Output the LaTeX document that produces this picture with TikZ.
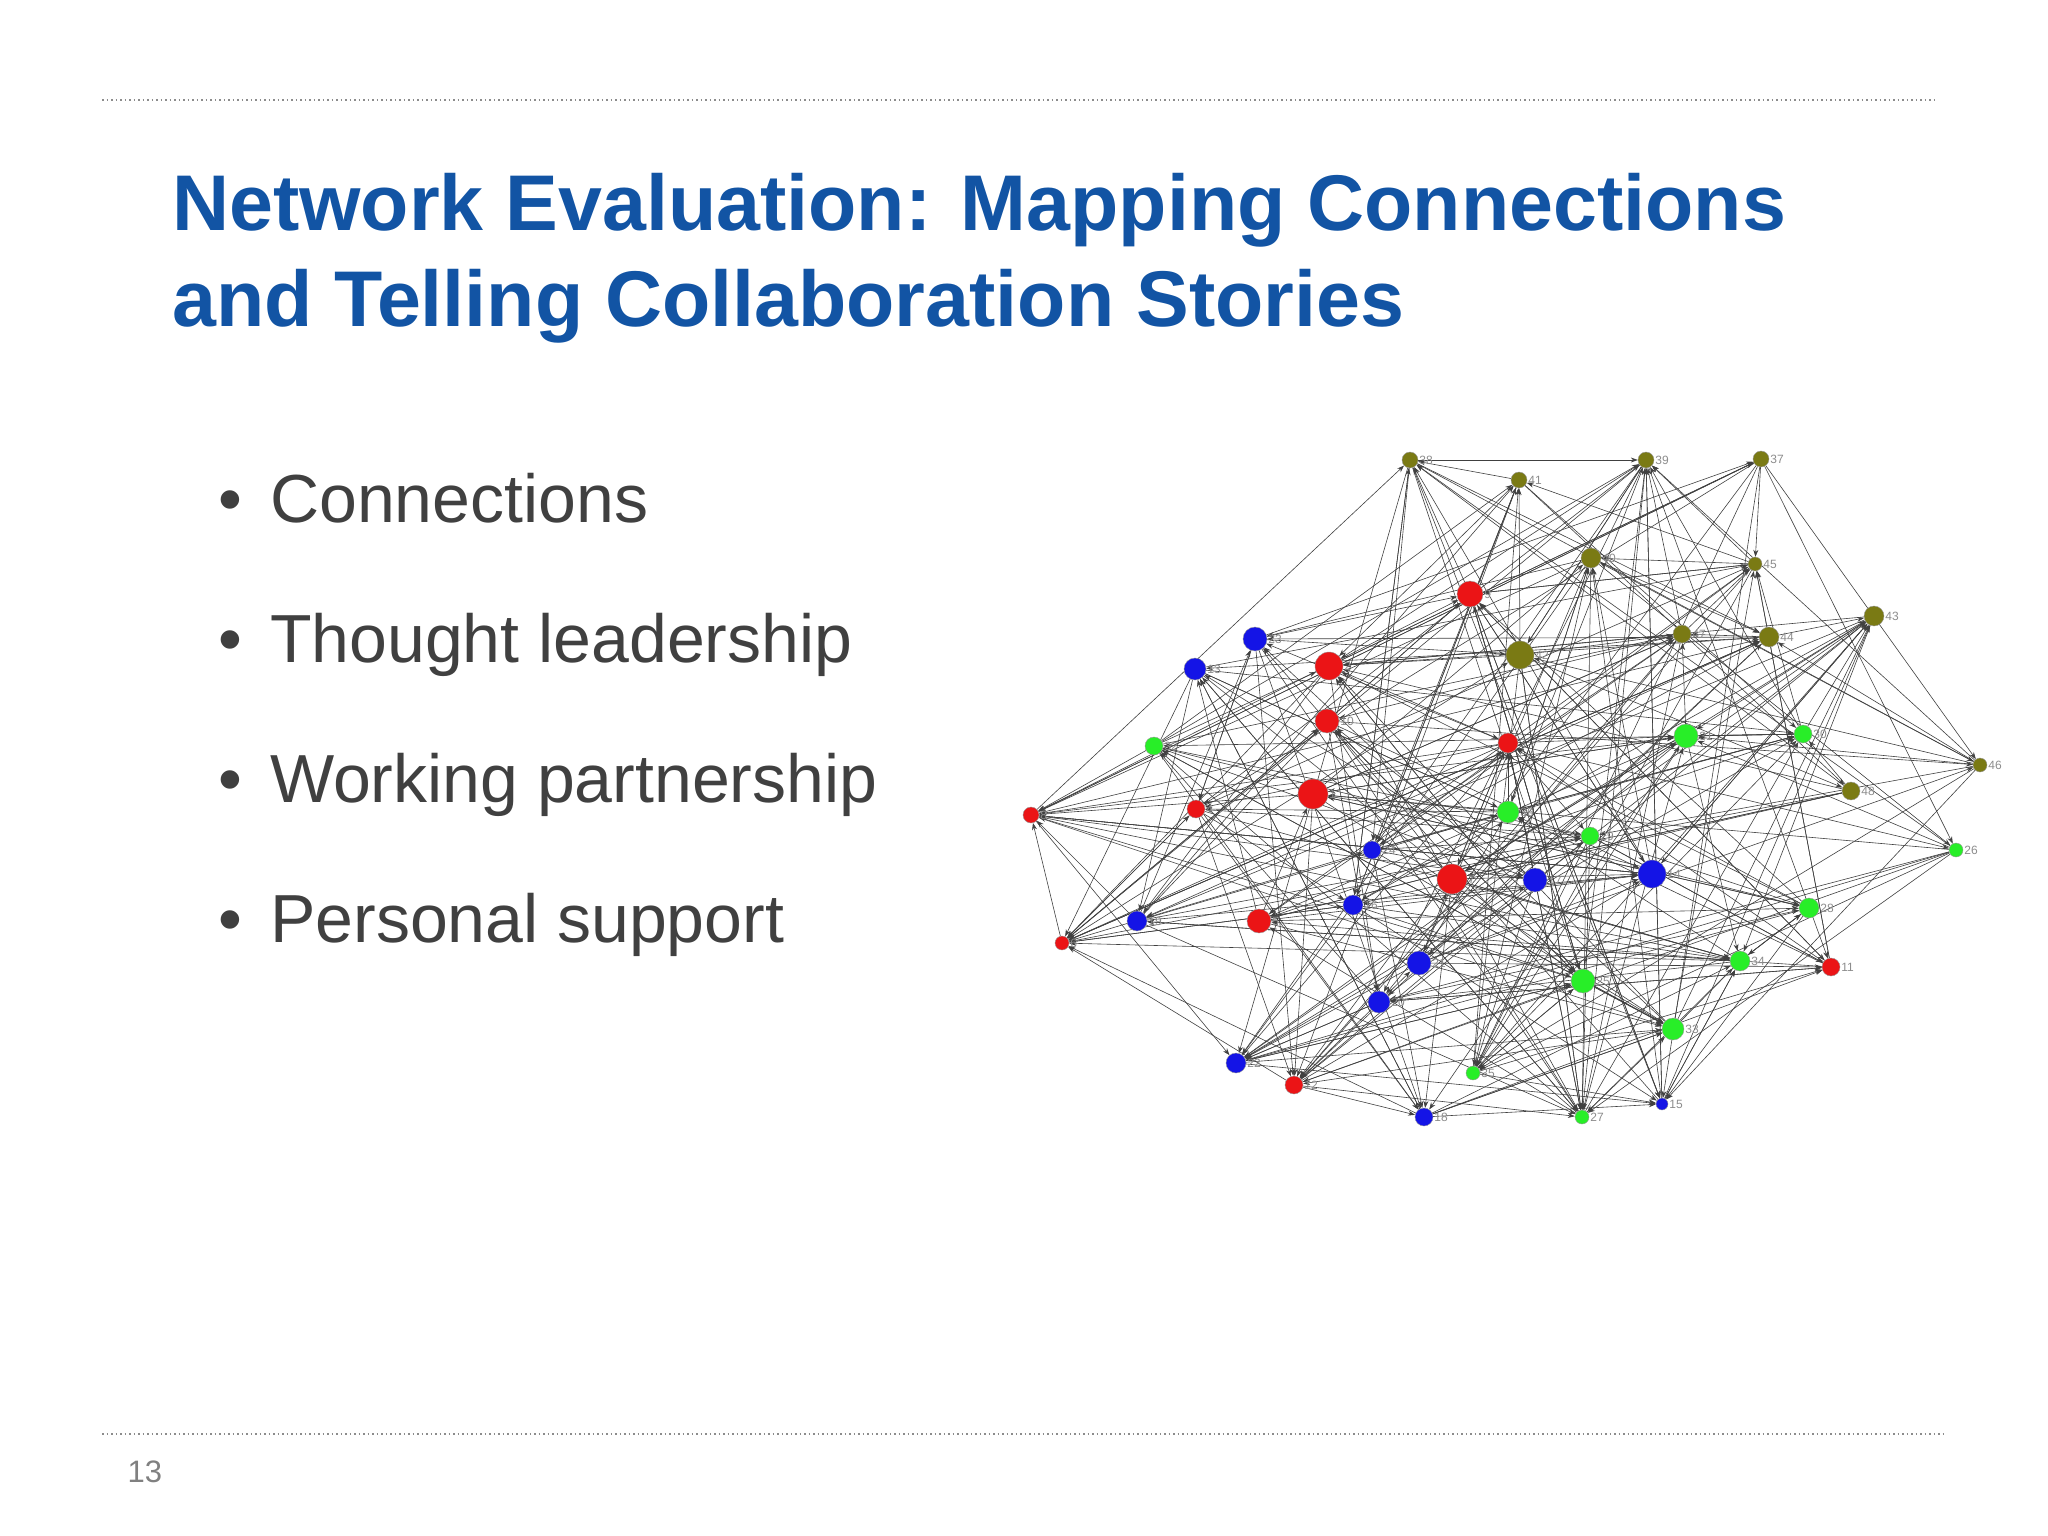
\documentclass[tikz,border=0pt]{standalone}
\usepackage{fontspec}
\setmainfont{Liberation Sans}
\usetikzlibrary{arrows.meta}
\definecolor{ttl}{RGB}{18,84,164}
\definecolor{txt}{RGB}{64,64,64}
\definecolor{nr}{RGB}{235,20,22}
\definecolor{nb}{RGB}{20,20,230}
\definecolor{ng}{RGB}{40,238,40}
\definecolor{no}{RGB}{122,122,20}
\pgfdeclarelayer{bg}
\pgfsetlayers{bg,main}
\tikzset{
  vtx/.style={circle,inner sep=0pt,draw=black!40,line width=0.4pt},
  vlab/.style={anchor=west,inner sep=1pt,text=black!45,font=\fontsize{12}{12}\selectfont},
  edge/.style={draw=black!75,line width=0.6pt,-{Stealth[length=7pt,width=5pt]}},
  bul/.style={anchor=base west,text=txt,font=\fontsize{68}{70}\selectfont,inner sep=0},
  dots/.style={draw=black!45,line width=1.5pt,dash pattern=on 1.5pt off 3pt}
}
\begin{document}
\begin{tikzpicture}[x=1pt,y=-1pt]
\useasboundingbox (0,0) rectangle (2048,1536);
\draw[dots] (102,100) coordinate (t1) -- (1937,100) coordinate (t2);
\draw[dots] (102,1434) coordinate (b1) -- (1943,1434) coordinate (b2);
\node[anchor=base west,text=ttl,font=\fontsize{79}{96}\selectfont\bfseries,inner sep=0] (title1) at (172,230)
 {Network Evaluation: Mapping Connections};
\node[anchor=base west,text=ttl,font=\fontsize{79}{96}\selectfont\bfseries,inner sep=0] (title2) at (172,326)
 {and Telling Collaboration Stories};
\foreach \t/\yy/\nm in {Connections/522/a, Thought leadership/662/b, Working partnership/802/c, Personal support/942/d}{
  \node[bul] (bb\nm) at (218,\yy) {\textbullet};
  \node[bul] (l\nm) at (270,\yy) {\t};
}
\node[anchor=base west,text=black!50,font=\fontsize{31}{31}\selectfont] (pg) at (124,1482) {13};
\foreach \n/\x/\y/\c/\s in {
 38/1410/460/no/16, 9/1470/594/nr/26, 23/1255/639/nb/24, 13/1195/669/nb/22,
 2/1329/666/nr/28, 10/1327/721/nr/24, 32/1154/746/ng/18, 3/1508/743/nr/20,
 1/1313/794/nr/30, 4/1196/809/nr/18, 8/1031/815/nr/16, 36/1508/812/ng/22,
 24/1372/850/nb/18, 7/1452/879/nr/30, 16/1353/905/nb/20, 19/1137/921/nb/20,
 5/1259/921/nr/24, 6/1062/943/nr/14, 21/1419/963/nb/24, 20/1379/1002/nb/22,
 22/1236/1063/nb/20, 12/1294/1085/nr/18, 35/1473/1073/ng/14, 18/1424/1117/nb/18,
 39/1646/460/no/16, 37/1761/459/no/16, 41/1519/480/no/16, 40/1591/558/no/20,
 45/1755/564/no/14, 43/1874/616/no/20, 47/1682/634/no/18, 44/1769/637/no/20,
 42/1520/655/no/28, 31/1686/736/ng/24, 30/1803/734/ng/18, 46/1980/765/no/14,
 48/1851/791/no/18, 29/1590/836/ng/18, 26/1956/850/ng/14, 17/1535/880/nb/24,
 14/1652/874/nb/28, 28/1809/908/ng/20, 34/1740/961/ng/20, 11/1831/967/nr/18,
 25/1583/981/ng/24, 33/1673/1029/ng/22, 15/1662/1104/nb/12, 27/1582/1117/ng/14}
{
 \node[vtx,fill=\c,minimum size=\s pt] (n\n) at (\x,\y) {};
 \node[vlab] (lab\n) at (n\n.east) {\n};
}
\begin{pgfonlayer}{bg}
\pgfmathsetseed{11}
\foreach \a in {1,...,48}{
  \foreach \k in {1,...,8}{
    \pgfmathrandominteger{\b}{1}{48}
    \ifnum\b=\a\relax\else
      \draw[edge] (n\a) -- (n\b);
    \fi
  }
}
\end{pgfonlayer}
\end{tikzpicture}
\end{document}
